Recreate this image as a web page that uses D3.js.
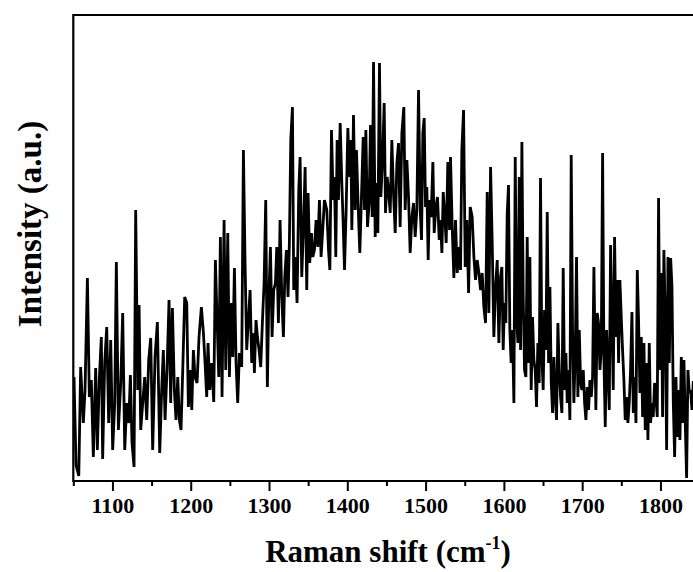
<!DOCTYPE html>
<html>
<head>
<meta charset="utf-8">
<script src="https://cdn.jsdelivr.net/npm/d3@7"></script>
<style>
  html, body { margin: 0; padding: 0; background: #fff; overflow: hidden; }
  svg { display: block; }
  .tick-label, .axis-title { font-family: "Liberation Serif", "Times New Roman", serif; font-weight: bold; }
</style>
</head>
<body>
<svg id="chart"></svg>
<script>
const width = 693;
const height = 572;

// Raman shift (cm-1)
const shift = [
  1050.9, 1053.5, 1057, 1059.4, 1062.8, 1065, 1068, 1070.5, 1073, 1075.6, 1078.6, 1080.7, 1083.3, 1085.8, 1087.5, 1090.1,
  1092.7, 1095.2, 1097.8, 1100.3, 1102.9, 1105, 1107.6, 1110.6, 1113.1, 1115.7, 1118.2, 1120.8, 1122.9, 1125, 1127.6, 1129.7,
  1132.3, 1134, 1136.1, 1138.7, 1141.2, 1143.8, 1146.3, 1148.9, 1151.4, 1154.4, 1157.4,
  1160.4, 1162.9, 1165, 1167.2, 1169.7, 1172.3, 1174.4, 1176.6, 1179.1, 1181.2, 1183.4, 1185.5, 1187.6, 1189.8, 1192.3, 1194.9,
  1197, 1199.6, 1201.3, 1203.4, 1205.5, 1208.1, 1210.6, 1213.6, 1216.2, 1218.3, 1220.4, 1222.1, 1224.3, 1226.8, 1229.4, 1231.5,
  1233.6, 1235.8, 1237.9, 1240, 1242.6, 1244.7, 1247.3, 1249.4, 1251.5, 1253.7, 1255.8, 1257.9, 1260, 1262.2, 1264.3,
  1265.1, 1267.3, 1269.4, 1271.5, 1273.7, 1275.8, 1277.9, 1280, 1281.3, 1283.4, 1285.2, 1287.3, 1289.4, 1291.5, 1293.7, 1295.8,
  1297.9, 1299.6, 1301.8, 1303.9, 1306, 1308.2, 1309.9, 1312, 1314.1, 1316.3, 1318.4, 1320.1, 1322.2, 1324.3, 1326, 1327.8,
  1329.9, 1331.6, 1333.7, 1335.8, 1338, 1339.7, 1341.8, 1343.9, 1346.1, 1348.2, 1349.9, 1352, 1354.2, 1355.9, 1358, 1360.1,
  1362.3, 1364.4, 1366.5, 1368.6, 1370.8,
  1373.8, 1376, 1377.7, 1379.8, 1381.9, 1383.6, 1385.3, 1387, 1388.7, 1390.9, 1393, 1394.7, 1396.4, 1398.5, 1400.7, 1402.8,
  1404.5, 1405.8, 1407.9, 1410, 1411.7, 1413.9, 1416, 1418.1, 1420.3, 1422, 1423.7, 1425.8, 1427.9, 1429.6, 1431.8, 1433.5,
  1435.6, 1437.7, 1439, 1441.1, 1442.8, 1445, 1447.1, 1448.8, 1450.9, 1452.6, 1454.8, 1456.9, 1459, 1461.2, 1463.3, 1465.4,
  1467.5, 1469.7, 1472.2, 1473.9, 1476.1, 1478.2, 1480.3, 1482.5,
  1484.6, 1486.7, 1488.8, 1491, 1493.1, 1494.8, 1496.5, 1498.2, 1499.9, 1501.6, 1503.3, 1505, 1507.1, 1509.3, 1511, 1513.1,
  1515.2, 1517.4, 1519.1, 1520.8, 1522.5, 1524.6, 1526.3, 1528.4, 1530.6, 1531.8, 1534, 1536.1, 1538.2, 1540.4, 1542.5, 1544.6,
  1546.3, 1548.5, 1550.6, 1552.7, 1554.9, 1557, 1559.5, 1561.7, 1563.8, 1565.9, 1568.1, 1570.2, 1572.3, 1574.4, 1576.6, 1578.7,
  1580.8, 1583, 1585.1, 1587.2, 1589.4, 1591.5, 1593.6,
  1595.7, 1597.4, 1599.1, 1600.8, 1602.5, 1604.2, 1605.9, 1607.6, 1609.3, 1611, 1612.8, 1614.5, 1616.2, 1617.9, 1619.6, 1621.3,
  1623, 1624.7, 1626.4, 1628.1, 1629.8, 1631.5, 1633.2, 1634.9, 1636.6, 1638.3, 1640, 1641.7, 1643.4, 1645.1, 1646.8, 1648.5,
  1650.2, 1651.9, 1653.7, 1655.4, 1657.1, 1658.8, 1660.5, 1662.2, 1663.9, 1665.6, 1667.3, 1669, 1670.7, 1672.4, 1674.1, 1675.8,
  1677.5, 1679.2, 1680.9, 1682.6, 1684.3, 1686, 1687.7, 1689.4, 1691.1, 1692.8, 1694.5, 1696.3, 1698, 1699.7, 1701.4, 1703.1,
  1704.8, 1706.5, 1708.2, 1709.9, 1711.6, 1713.3, 1715,
  1717.5, 1719.2, 1720.9, 1722.7, 1724.4, 1726.1, 1727.8, 1729.5, 1731.2, 1732.9, 1734.6, 1736.3, 1738, 1739.7, 1741.4, 1743.1,
  1744.8, 1746.5, 1748.2, 1749.9, 1751.6, 1753.3, 1755, 1756.7, 1758.4, 1760.1, 1761.8, 1763.6, 1765.3, 1767, 1768.7, 1770.4,
  1772.1, 1773.8, 1775.5, 1777.2, 1778.9, 1780.6, 1782.3, 1784, 1785.7, 1787.4, 1789.1, 1790.8, 1792.5, 1794.2, 1795.9, 1797.6,
  1799.3, 1801, 1802.7, 1804.4, 1806.1, 1807.9, 1809.6, 1811.3, 1813, 1814.7, 1816.4, 1818.1, 1819.8, 1821.5, 1823.2, 1824.9,
  1826.6, 1828.3, 1830, 1831.7, 1833.4, 1835.1, 1836.8, 1838.5, 1840.2, 1842
];

// Intensity (a.u.), same order as shift
const intensity = [
  104, 16, 5, 114, 58, 91, 203, 84, 101, 24, 113, 31, 103, 144, 22, 118,
  154, 58, 141, 31, 78, 219, 51, 98, 168, 31, 78, 58, 106, 38, 14, 271,
  91, 176, 51, 78, 104, 61, 121, 143, 31, 124, 159,
  28, 91, 131, 61, 111, 181, 78, 173, 91, 61, 104, 61, 51, 111, 184, 178,
  74, 111, 71, 131, 104, 98, 144, 174, 148, 118, 84, 138, 91, 118, 79, 221,
  164, 104, 244, 84, 261, 111, 248, 104, 178, 124, 213, 118, 78, 128, 121,
  114, 331, 218, 131, 161, 191, 118, 148, 108, 161, 144, 131, 114, 158, 198, 281,
  94, 178, 234, 144, 191, 198, 234, 158, 261, 184, 144, 204, 231, 184, 238, 341,
  374, 191, 224, 178, 291, 324, 204, 251, 314, 191, 288, 218, 248, 224, 231, 261,
  234, 281, 224, 251, 281,
  271, 231, 211, 351, 281, 304, 224, 341, 281, 358, 298, 258, 211, 271, 353, 304,
  341, 251, 366, 271, 331, 274, 228, 284, 344, 271, 351, 254, 278, 356, 264, 419,
  244, 298, 248, 418, 284, 321, 378, 268, 304, 291, 268, 341, 288, 248, 318, 338,
  254, 348, 374, 271, 321, 284, 228, 264,
  278, 244, 271, 391, 271, 241, 348, 363, 274, 294, 221, 281, 264, 319, 248, 274,
  284, 241, 261, 228, 289, 264, 238, 319, 251, 324, 254, 203, 261, 208, 234, 211,
  331, 371, 214, 261, 188, 274, 264, 224, 201, 221, 208, 191, 208, 174, 158, 289,
  168, 314, 238, 144, 194, 221, 138,
  204, 214, 131, 178, 158, 266, 296, 151, 118, 151, 78, 324, 164, 138, 304, 131,
  339, 184, 111, 104, 244, 118, 224, 91, 164, 121, 111, 74, 138, 98, 303, 124,
  91, 171, 131, 269, 118, 194, 98, 68, 124, 84, 61, 158, 111, 84, 68, 213,
  91, 128, 78, 111, 61, 326, 151, 78, 124, 224, 84, 151, 98, 91, 111, 78,
  61, 94, 71, 101, 84, 104, 214,
  71, 168, 158, 111, 131, 328, 121, 54, 151, 111, 71, 236, 164, 91, 244, 144,
  201, 118, 201, 164, 131, 101, 61, 84, 58, 78, 111, 169, 68, 104, 58, 211,
  158, 88, 144, 64, 138, 51, 118, 41, 138, 58, 78, 64, 98, 84, 64, 283,
  111, 208, 64, 231, 164, 31, 224, 118, 223, 194, 78, 24, 104, 44, 91, 41,
  124, 58, 121, 58, 3, 111, 88, 91, 71, 100
];

const xDomain = [1050, 1850];
const yDomain = [0, 466];
const majorTicks = [1100, 1200, 1300, 1400, 1500, 1600, 1700, 1800];
const minorTicks = [1050, 1150, 1250, 1350, 1450, 1550, 1650, 1750];

const xTitle = "Raman shift (cm";
const xTitleSup = "-1";
const yTitle = "Intensity (a.u.)";

// the plot runs past the right edge of the window, as in the reference
const margin = { top: 15, right: -6.6, bottom: 91, left: 73.3 };
const innerWidth = width - margin.left - margin.right;
const innerHeight = height - margin.top - margin.bottom;
const visibleWidth = width - margin.left;

const svg = d3.select("#chart")
  .attr("width", width)
  .attr("height", height);

const data = shift.map((s, i) => ({ shift: s, intensity: intensity[i] }));

const xScale = d3.scaleLinear().domain(xDomain).range([0, innerWidth]);
const yScale = d3.scaleLinear().domain(yDomain).range([innerHeight, 0]);

const g = svg.append("g")
  .attr("transform", `translate(${margin.left},${margin.top})`);

g.append("clipPath")
  .attr("id", "plot-clip")
  .append("rect")
  .attr("width", visibleWidth)
  .attr("height", innerHeight);

// spectrum
const lineGenerator = d3.line()
  .x(d => xScale(d.shift))
  .y(d => yScale(d.intensity));

g.append("path")
  .datum(data)
  .attr("clip-path", "url(#plot-clip)")
  .attr("fill", "none")
  .attr("stroke", "#000")
  .attr("stroke-width", 2.8)
  .attr("stroke-linejoin", "miter")
  .attr("d", lineGenerator);

// bottom axis, major ticks with labels
const xAxisMajor = d3.axisBottom(xScale)
  .tickValues(majorTicks)
  .tickSize(10)
  .tickPadding(6)
  .tickFormat(d3.format("d"));

const xAxisG = g.append("g")
  .attr("transform", `translate(0,${innerHeight})`)
  .call(xAxisMajor);

xAxisG.select(".domain").remove();
xAxisG.selectAll("line").attr("stroke", "#000").attr("stroke-width", 2);
xAxisG.selectAll("text")
  .attr("class", "tick-label")
  .attr("fill", "#000")
  .style("font-size", "22px");

// minor ticks, no labels
const xAxisMinor = d3.axisBottom(xScale)
  .tickValues(minorTicks)
  .tickSize(5)
  .tickFormat("");

const xMinorG = g.append("g")
  .attr("transform", `translate(0,${innerHeight})`)
  .call(xAxisMinor);

xMinorG.select(".domain").remove();
xMinorG.selectAll("text").remove();
xMinorG.selectAll("line").attr("stroke", "#000").attr("stroke-width", 2);

// frame: top, left and bottom lines up to the window edge
g.append("path")
  .attr("fill", "none")
  .attr("stroke", "#000")
  .attr("stroke-width", 2.2)
  .attr("d", `M${visibleWidth},0H0V${innerHeight}H${visibleWidth}`);

// axis titles
const xt = svg.append("text")
  .attr("class", "axis-title")
  .attr("x", 388)
  .attr("y", 562)
  .attr("text-anchor", "middle")
  .style("font-size", "31px")
  .attr("fill", "#000");

xt.append("tspan").text(xTitle);
xt.append("tspan")
  .attr("dy", -13)
  .style("font-size", "18px")
  .text(xTitleSup);
xt.append("tspan")
  .attr("dy", 13)
  .text(")");

svg.append("text")
  .attr("class", "axis-title")
  .attr("transform", `translate(41,224) rotate(-90)`)
  .attr("text-anchor", "middle")
  .style("font-size", "33px")
  .attr("fill", "#000")
  .text(yTitle);
</script>
</body>
</html>
